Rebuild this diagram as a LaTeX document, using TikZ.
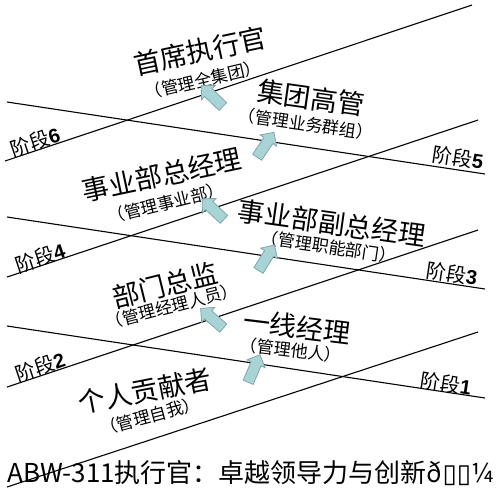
\documentclass[tikz,border=0pt]{standalone}
\usepackage{fontspec}
\setmainfont{Noto Sans CJK SC}
\newfontfamily\numfont{Liberation Sans}
\newfontfamily\symfont{DejaVu Sans}
\usetikzlibrary{shapes.arrows}
\definecolor{arrowfill}{HTML}{A9D4D6}
\definecolor{arrowline}{HTML}{7EA6AA}

\begin{document}
\begin{tikzpicture}[
x=1pt, y=-1pt,
stageline/.style={line width=1.1pt},
title/.style={font=\fontsize{27}{27}\selectfont, inner sep=0pt},
sub/.style={font=\fontsize{17}{17}\selectfont, inner sep=0pt},
stage/.style={font=\fontsize{20}{20}\selectfont, inner sep=0pt},
uparrow/.style={single arrow,
draw=arrowline,
fill=arrowfill,
line width=0.8pt,
minimum height=30pt,
inner xsep=0pt,
inner ysep=5pt,
single arrow head extend=4.5pt}
]
\useasboundingbox (0,0) rectangle (500,490);

% rising lines
\draw[stageline] (5,161) -- (472,5);
\draw[stageline] (7,277) -- (478,120);
\draw[stageline] (7,387) -- (478,230);
\draw[stageline] (7,487) -- (478,332);
% falling lines
\draw[stageline] (7,102) -- (485,174);
\draw[stageline] (7,217) -- (485,289);
\draw[stageline] (7,326) -- (485,398);

% stages
\node[stage, rotate=18.4] (stage6) at (35,142) {阶段{\numfont\bfseries 6}};
\node[stage, rotate=18.4] (stage4) at (40,258) {阶段{\numfont\bfseries 4}};
\node[stage, rotate=18.4] (stage2) at (40,367) {阶段{\numfont\bfseries 2}};
\node[stage, rotate=-8.5] (stage5) at (458,158) {阶段{\numfont\bfseries 5}};
\node[stage, rotate=-8.5] (stage3) at (452,274) {阶段{\numfont\bfseries 3}};
\node[stage, rotate=-8.5] (stage1) at (446,384) {阶段{\numfont\bfseries 1}};

% roles
\node[title, rotate=12] (ceo) at (200,51) {首席执行官};
\node[sub, rotate=13] (ceosub) at (203,80) {（管理全集团）};
\node[title, rotate=-8] (group) at (311,98) {集团高管};
\node[sub, rotate=-8] (groupsub) at (306,124) {（管理业务群组）};
\node[title, rotate=12] (bu) at (162,175) {事业部总经理};
\node[sub, rotate=14] (busub) at (166,203) {（管理事业部）};
\node[title, rotate=-8] (vp) at (332,223) {事业部副总经理};
\node[sub, rotate=-8.5] (vpsub) at (329,247) {（管理职能部门）};
\node[title, rotate=14] (dept) at (165,285) {部门总监};
\node[sub, rotate=14.5] (deptsub) at (172,306) {（管理经理人员）};
\node[title, rotate=-7] (line) at (297,327) {一线经理};
\node[sub, rotate=-7] (linesub) at (291,350) {（管理他人）};
\node[title, rotate=11] (self) at (145,391) {个人贡献者};
\node[sub, rotate=15] (selfsub) at (150,416) {（管理自我）};

% arrows
\node[uparrow, rotate=136] (up1) at (214,98) {};
\node[uparrow, rotate=56] (up2) at (264,147) {};
\node[uparrow, rotate=137] (up3) at (215,211) {};
\node[uparrow, rotate=58] (up4) at (265,260) {};
\node[uparrow, rotate=139] (up5) at (214,320) {};
\node[uparrow, rotate=67] (up6) at (253,371) {};

\node[anchor=base west, inner sep=0pt, font=\fontsize{26}{26}\selectfont] (caption) at (7,482) {ABW-311执行官：卓越领导力与创新ð{\symfont ▯▯}¼};
\end{tikzpicture}
\end{document}
